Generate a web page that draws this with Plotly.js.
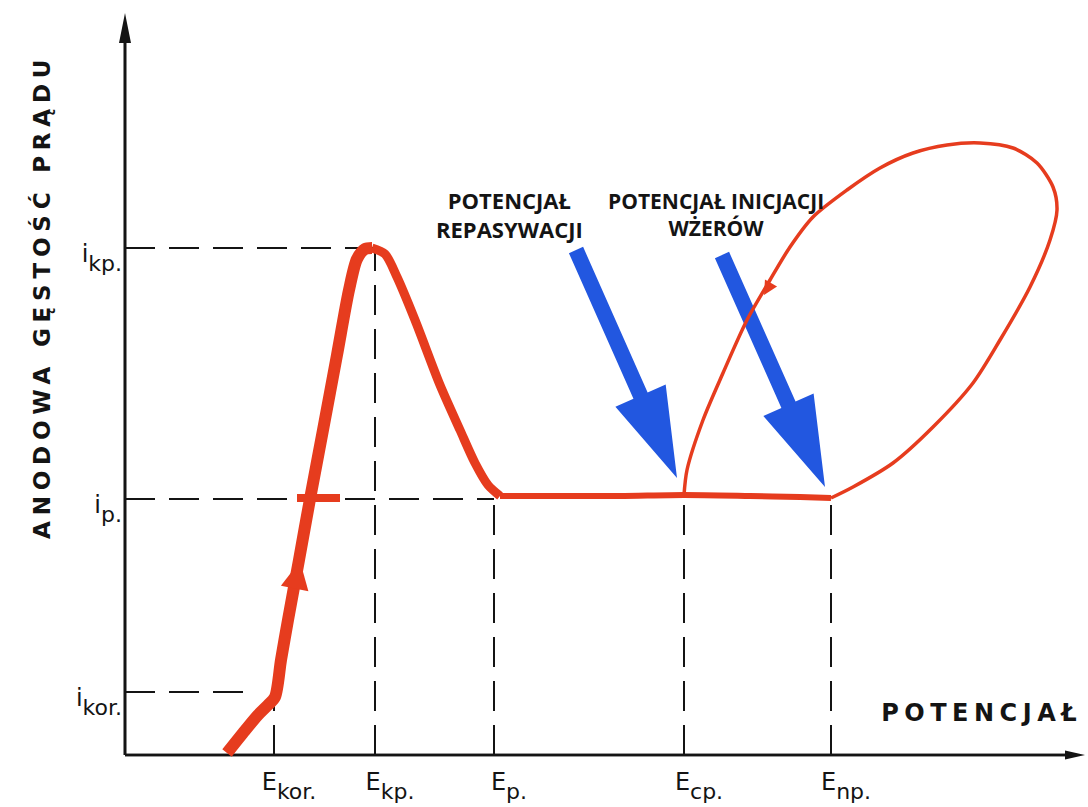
<!DOCTYPE html>
<html>
<head>
<meta charset="utf-8">
<script src="https://cdn.plot.ly/plotly-3.0.1.min.js"></script>
<style>html,body{margin:0;padding:0;background:#fff;}</style>
</head>
<body>
<div id="chart" style="width:1088px;height:807px;"></div>
<script>
// ---------------- DATA (schematic units) ----------------
// potential axis (x) marks
const potentialTickValues = [14.9, 25.0, 36.9, 55.9, 70.6];
const potentialTickSubs   = ['kor.', 'kp.', 'p.', 'cp.', 'np.'];
const potentialGuideTop   = [6.3, 50.7, 25.6, 25.6, 25.6];
// current density axis (y) marks
const currentTickValues = [6.3, 25.6, 50.7];
const currentTickSubs   = ['kor.', 'p.', 'kp.'];
const currentGuideEnd   = [13.0, 36.9, 25.0];

// axis extents (arrow tips)
const xAxisEnd = 96.0;
const yAxisEnd = 74.2;

// anodic curve: active rise up to the critical passivation peak
const activeX = [10.2, 11.8, 13.3, 14.3, 15.0, 15.6, 16.3, 17.4, 18.5, 19.8, 21.2, 22.4, 23.2, 24.0, 24.7];
const activeY = [0.2, 2.2, 4.0, 5.0, 5.8, 9.5, 13.5, 19.5, 25.6, 32.5, 40.0, 46.5, 49.6, 50.6, 50.7];
// decay from the peak down to passivation potential
const decayX = [24.7, 26.0, 27.2, 29.0, 31.5, 33.5, 35.0, 36.3, 37.5];
const decayY = [50.7, 50.1, 47.8, 43.5, 37.0, 32.5, 29.2, 27.0, 25.9];
// passive plateau
const passiveX = [37.5, 43.5, 49.5, 55.9, 62.5, 67.5, 70.6];
const passiveY = [25.9, 25.9, 25.9, 26.0, 25.9, 25.8, 25.7];
// pitting hysteresis loop (from E_np up and back to E_cp)
const loopX = [70.6, 72.8, 76.8, 80.8, 84.8, 87.5, 90.5, 92.5, 93.2, 92.8, 91.2, 88.8, 85.5, 82.2, 78.8, 75.5, 72.2, 68.8, 66.5, 64.5, 62.2, 59.8, 57.8, 56.2, 55.9];
const loopY = [25.7, 26.8, 29.2, 32.8, 37.2, 41.5, 46.8, 51.5, 54.5, 56.8, 59.2, 60.7, 61.2, 61.0, 60.2, 58.7, 56.5, 53.8, 50.8, 47.5, 43.5, 38.2, 33.5, 28.5, 26.0];
// short red bar at the passive current level
const barX = [17.2, 21.5];
const barY = [25.7, 25.7];
// direction arrows on the curve
const riseArrowX = [17.5], riseArrowY = [19.4];
const loopArrowX = [63.9], loopArrowY = [46.0];

// blue pointer arrows: [tailX, tailY, tipX, tipY]
const repassivationArrow = [45.1, 50.5, 55.2, 27.7];
const pittingArrow       = [59.7, 50.0, 70.0, 26.8];

// labels
const xAxisLabel = 'POTENCJAŁ';
const yAxisLabel = 'ANODOWA GĘSTOŚĆ PRĄDU';
const repassivationLabel = 'POTENCJAŁ<br>REPASYWACJI';
const pittingLabel = 'POTENCJAŁ INICJACJI<br>WŻERÓW';

// ---------------- STYLE ----------------
const RED = '#E63C1E';
const BLUE = '#2257E0';
const INK = '#141414';

function arrowPolygon(x0, y0, x1, y1, shaftW, headLen, headW) {
  const dx = x1 - x0, dy = y1 - y0, L = Math.hypot(dx, dy);
  const ux = dx / L, uy = dy / L, nx = -uy, ny = ux;
  const bx = x1 - ux * headLen, by = y1 - uy * headLen;
  const s = shaftW / 2, h = headW / 2;
  const xs = [x0 + nx * s, bx + nx * s, bx + nx * h, x1, bx - nx * h, bx - nx * s, x0 - nx * s, x0 + nx * s];
  const ys = [y0 + ny * s, by + ny * s, by + ny * h, y1, by - ny * h, by - ny * s, y0 - ny * s, y0 + ny * s];
  return {x: xs, y: ys};
}

function polyTrace(p, color) {
  return {x: p.x, y: p.y, mode: 'lines', fill: 'toself', fillcolor: color,
          line: {width: 0, color: color}, hoverinfo: 'skip', showlegend: false};
}
function lineTrace(x, y, color, width, shape) {
  return {x: x, y: y, mode: 'lines', line: {color: color, width: width, shape: shape || 'linear', smoothing: 0.8},
          hoverinfo: 'skip', showlegend: false};
}

const traces = [];
// axes drawn as lines from the origin with arrow heads
traces.push(lineTrace([0, xAxisEnd - 1.0], [0, 0], INK, 2.6));
traces.push(lineTrace([0, 0], [0, yAxisEnd - 1.5], INK, 2.6));
traces.push(polyTrace(arrowPolygon(0, 0, xAxisEnd, 0, 0.26, 2.0, 0.9), INK));
traces.push(polyTrace(arrowPolygon(0, 0, 0, yAxisEnd, 0.26, 3.0, 1.2), INK));

// blue pointers
[repassivationArrow, pittingArrow].forEach(a => {
  traces.push(polyTrace(arrowPolygon(a[0], a[1], a[2], a[3], 1.55, 9.0, 5.5), BLUE));
});

// red curve
traces.push(lineTrace(loopX, loopY, RED, 3.5, 'spline'));
traces.push(lineTrace(passiveX, passiveY, RED, 6, 'spline'));
traces.push(lineTrace(decayX, decayY, RED, 9, 'spline'));
traces.push(lineTrace(activeX, activeY, RED, 12, 'spline'));
traces.push(lineTrace(barX, barY, RED, 8));
traces.push({x: riseArrowX, y: riseArrowY, mode: 'markers', cliponaxis: false,
  marker: {symbol: 'arrow-up', size: 28, angle: 11, color: RED, line: {width: 0}},
  hoverinfo: 'skip', showlegend: false});
traces.push({x: loopArrowX, y: loopArrowY, mode: 'markers', cliponaxis: false,
  marker: {symbol: 'arrow-down', size: 14, angle: 30, color: RED, line: {width: 0}},
  hoverinfo: 'skip', showlegend: false});

// dashed guide lines
const shapes = [];
const guideLine = {color: INK, width: 2, dash: '30px,14px'};
currentTickValues.forEach((v, i) => {
  shapes.push({type: 'line', xref: 'x', yref: 'y', x0: 0, x1: currentGuideEnd[i], y0: v, y1: v, line: guideLine, layer: 'below'});
});
potentialTickValues.forEach((v, i) => {
  shapes.push({type: 'line', xref: 'x', yref: 'y', x0: v, x1: v, y0: 0, y1: potentialGuideTop[i], line: guideLine, layer: 'below'});
});

const lowered = s => '<span style="baseline-shift:-0.4em;font-size:22px">' + s + '</span>';

const layout = {
  width: 1088, height: 807,
  margin: {l: 117, r: 1, t: 11, b: 44},
  paper_bgcolor: '#fff', plot_bgcolor: '#fff',
  showlegend: false,
  xaxis: {
    range: [-0.8, 96.2], showline: false, zeroline: false, showgrid: false, ticks: '',
    tickvals: potentialTickValues, ticktext: potentialTickSubs.map(s => 'E' + lowered(s)),
    tickfont: {family: 'DejaVu Sans', size: 24, color: INK},
    ticklabelshift: 15, ticklabelstandoff: 2, fixedrange: true
  },
  yaxis: {
    range: [-0.8, 74.4], showline: false, zeroline: false, showgrid: false, ticks: '',
    tickvals: currentTickValues, ticktext: currentTickSubs.map(s => 'i' + lowered(s)),
    tickfont: {family: 'DejaVu Sans', size: 24, color: INK},
    ticklabelshift: 6, ticklabelstandoff: -6, fixedrange: true
  },
  shapes: shapes,
  annotations: [
    {xref: 'paper', yref: 'paper', x: -0.0773, y: 0.6197, text: yAxisLabel, textangle: -90, showarrow: false,
     xanchor: 'center', yanchor: 'middle', font: {family: 'DejaVu Sans', size: 23, weight: 'bold', color: INK}},
    {xref: 'paper', yref: 'paper', x: 0.8914, y: 0.0665, text: xAxisLabel, showarrow: false,
     xanchor: 'center', yanchor: 'middle', font: {family: 'DejaVu Sans', size: 24, weight: 'bold', color: INK}},
    {xref: 'x', yref: 'y', x: 38.4, y: 54.1, text: repassivationLabel, showarrow: false,
     xanchor: 'center', yanchor: 'middle', font: {family: 'Open Sans', size: 22, weight: 700, color: INK}},
    {xref: 'x', yref: 'y', x: 59.1, y: 54.1, text: pittingLabel, showarrow: false,
     xanchor: 'center', yanchor: 'middle', font: {family: 'Open Sans', size: 21, weight: 700, color: INK}}
  ]
};

Plotly.newPlot('chart', traces, layout, {staticPlot: true, displayModeBar: false}).then(() => {
  const spacing = {};
  spacing[yAxisLabel] = '5.8px';
  spacing[xAxisLabel] = '5.5px';
  document.querySelectorAll('.annotation-text').forEach(t => {
    const s = spacing[t.textContent];
    if (s) t.style.letterSpacing = s;
  });
});
</script>
</body>
</html>
